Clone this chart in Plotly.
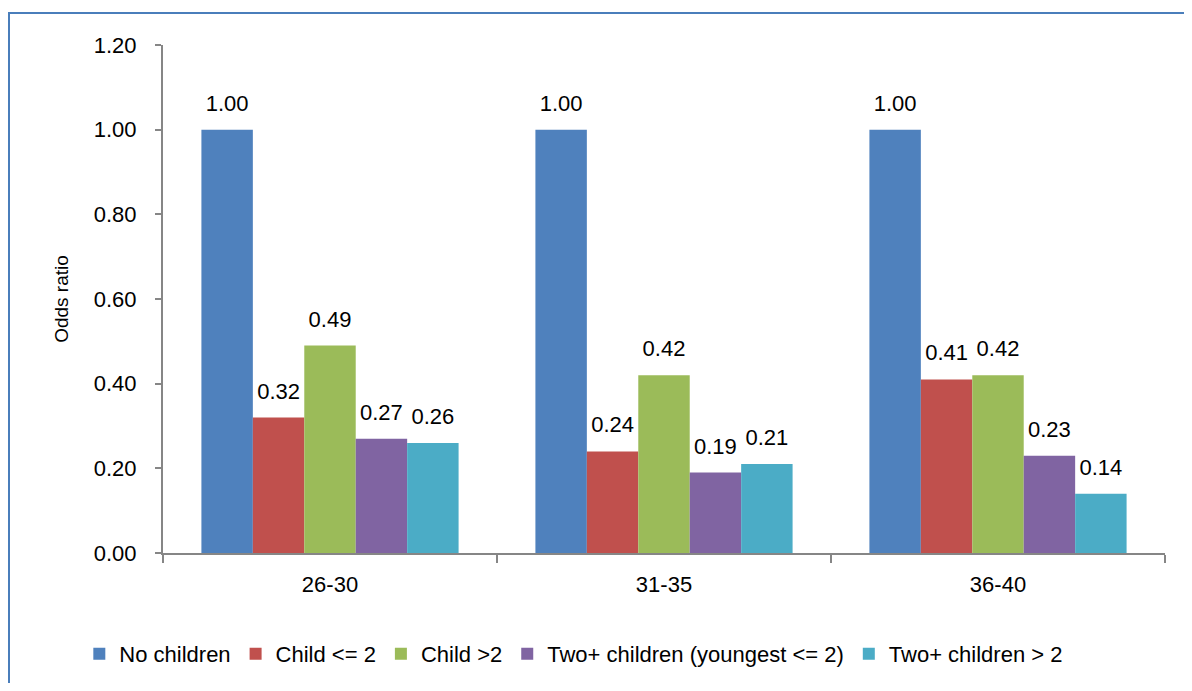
import plotly.graph_objects as go

categories = ["26-30", "31-35", "36-40"]
series_names = ["No children", "Child <= 2", "Child >2",
                "Two+ children (youngest <= 2)", "Two+ children > 2"]
no_children = [1.00, 1.00, 1.00]
child_le2 = [0.32, 0.24, 0.41]
child_gt2 = [0.49, 0.42, 0.42]
two_plus_young = [0.27, 0.19, 0.23]
two_plus_gt2 = [0.26, 0.21, 0.14]
y_ticks = [0.0, 0.2, 0.4, 0.6, 0.8, 1.0, 1.2]

series_values = [no_children, child_le2, child_gt2, two_plus_young, two_plus_gt2]
colors = ["#4F81BD", "#C0504D", "#9BBB59", "#8064A2", "#4BACC6"]

FONT = "Liberation Sans"
fig = go.Figure()
for i, (name, vals) in enumerate(zip(series_names, series_values)):
    fig.add_trace(go.Bar(
        x=categories, y=vals, name=name,
        marker=dict(color=colors[i], line=dict(width=0)),
        offsetgroup=str(i), alignmentgroup="a",
    ))
for i, (name, vals) in enumerate(zip(series_names, series_values)):
    fig.add_trace(go.Scatter(
        x=categories, y=vals, mode="markers+text",
        text=[f"{v:.2f}" for v in vals], textposition="top center",
        textfont=dict(family=FONT, size=22, color="#000000"),
        marker=dict(size=20, opacity=0),
        offsetgroup=str(i), alignmentgroup="a",
        showlegend=False, hoverinfo="skip", cliponaxis=False,
    ))

fig.update_layout(
    width=1176, height=675,
    margin=dict(l=155, r=19, t=37, b=130, autoexpand=False),
    paper_bgcolor="white", plot_bgcolor="white",
    barmode="group", bargap=0.23, bargroupgap=0,
    scattermode="group",
    font=dict(family=FONT, size=22, color="#000000"),
    showlegend=True,
    legend=dict(orientation="h", xref="paper", x=0.41, xanchor="center",
                yref="container", y=0.043, yanchor="middle",
                font=dict(family=FONT, size=22), itemwidth=30, traceorder="normal"),
    xaxis=dict(
        showline=True, linecolor="#868686", linewidth=2,
        ticks="outside", ticklen=8, tickcolor="#868686", tickwidth=2,
        tickson="boundaries", showgrid=False, ticklabelstandoff=11,
        tickfont=dict(family=FONT, size=22), automargin=False,
    ),
    yaxis=dict(
        range=[0, 1.2], tickvals=y_ticks, tickformat=".2f",
        showline=True, linecolor="#868686", linewidth=2,
        ticks="outside", ticklen=6, tickcolor="#868686", tickwidth=2,
        showgrid=False, zeroline=False, ticklabelstandoff=14,
        tickfont=dict(family=FONT, size=22), automargin=False,
        title=dict(text="Odds ratio", font=dict(family=FONT, size=19), standoff=20),
    ),
    shapes=[dict(type="rect", xref="paper", yref="paper",
                 x0=-0.1537, x1=1.04, y0=-0.29, y1=1.063,
                 line=dict(color="#4A7EBB", width=2), fillcolor="rgba(0,0,0,0)",
                 layer="below")],
)

fig.write_html("out.html")
